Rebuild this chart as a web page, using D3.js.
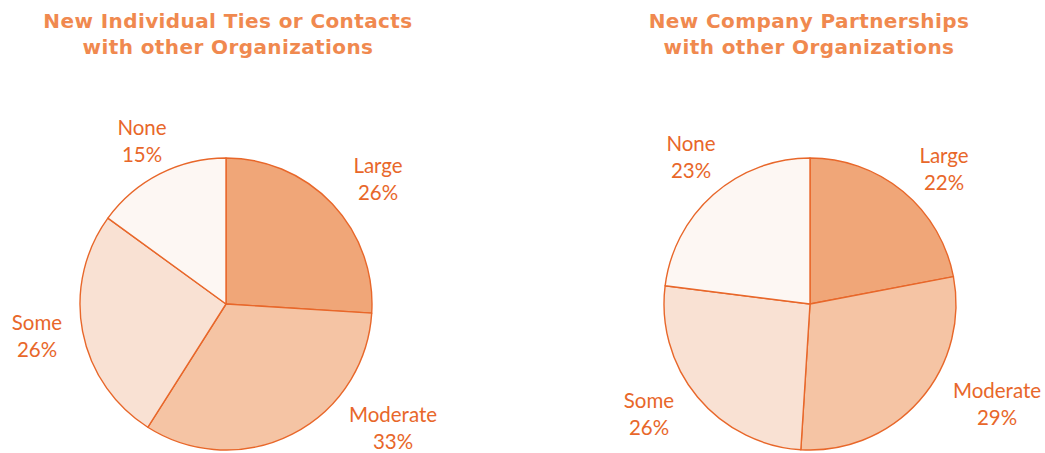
<!DOCTYPE html>
<meta charset="utf-8">
<script src="https://cdn.jsdelivr.net/npm/d3@7"></script>
<style>
  body { margin: 0; background: #fff; }
  text { font-family: Lato, "Open Sans", sans-serif; }
  text.title { font-family: "DejaVu Sans", sans-serif; }
</style>
<div id="vis"></div>
<script>
// data
const categories = ["Large", "Moderate", "Some", "None"]
const titles = [
  ["New Individual Ties or Contacts", "with other Organizations"],
  ["New Company Partnerships", "with other Organizations"]
]
const individualTies = [26, 33, 26, 15]
const companyPartnerships = [22, 29, 26, 23]

// layout
const width = 1045, height = 453
const radius = 146
const colors = ["#f0a678", "#f5c4a4", "#f9e1d3", "#fdf7f3"]
const stroke = "#e8672a"
const pies = [
  { cx: 226, cy: 304, tx: 228, values: individualTies, title: titles[0],
    // label anchor (first baseline) relative to pie centre, per category
    labelAt: [[152, -131], [167, 118], [-189, 26], [-84, -169]] },
  { cx: 810, cy: 304, tx: 809, values: companyPartnerships, title: titles[1],
    labelAt: [[134, -141], [187, 94], [-161, 104], [-119, -153]] }
]

const svg = d3.select("#vis").append("svg")
  .attr("width", width)
  .attr("height", height)

const pie = d3.pie().sort(null).value(d => d)
const arc = d3.arc().innerRadius(0).outerRadius(radius)

pies.forEach(p => {
  const t = svg.append("text")
    .attr("class", "title")
    .attr("x", p.tx)
    .attr("y", 28)
    .attr("text-anchor", "middle")
    .attr("fill", "#f0894f")
    .attr("font-weight", "bold")
    .attr("font-size", 20)
    .attr("letter-spacing", 0.4)
  t.selectAll("tspan")
    .data(p.title)
    .enter().append("tspan")
    .attr("x", p.tx)
    .attr("dy", (d, i) => i ? 25.5 : 0)
    .text(d => d)

  const g = svg.append("g")
    .attr("transform", `translate(${p.cx},${p.cy})`)

  g.selectAll("path")
    .data(pie(p.values))
    .enter().append("path")
    .attr("d", arc)
    .attr("fill", (d, i) => colors[i])
    .attr("stroke", stroke)
    .attr("stroke-width", 1.4)
    .attr("stroke-linejoin", "round")

  const lbl = g.selectAll("text.lbl")
    .data(p.values)
    .enter().append("text")
    .attr("class", "lbl")
    .attr("text-anchor", "middle")
    .attr("fill", stroke)
    .attr("font-size", 20.5)
    .attr("transform", (d, i) => `translate(${p.labelAt[i][0]},${p.labelAt[i][1]})`)
  lbl.append("tspan")
    .attr("x", 0)
    .text((d, i) => categories[i])
  lbl.append("tspan")
    .attr("x", 0)
    .attr("dy", 26.5)
    .text(d => d + "%")
})
</script>
